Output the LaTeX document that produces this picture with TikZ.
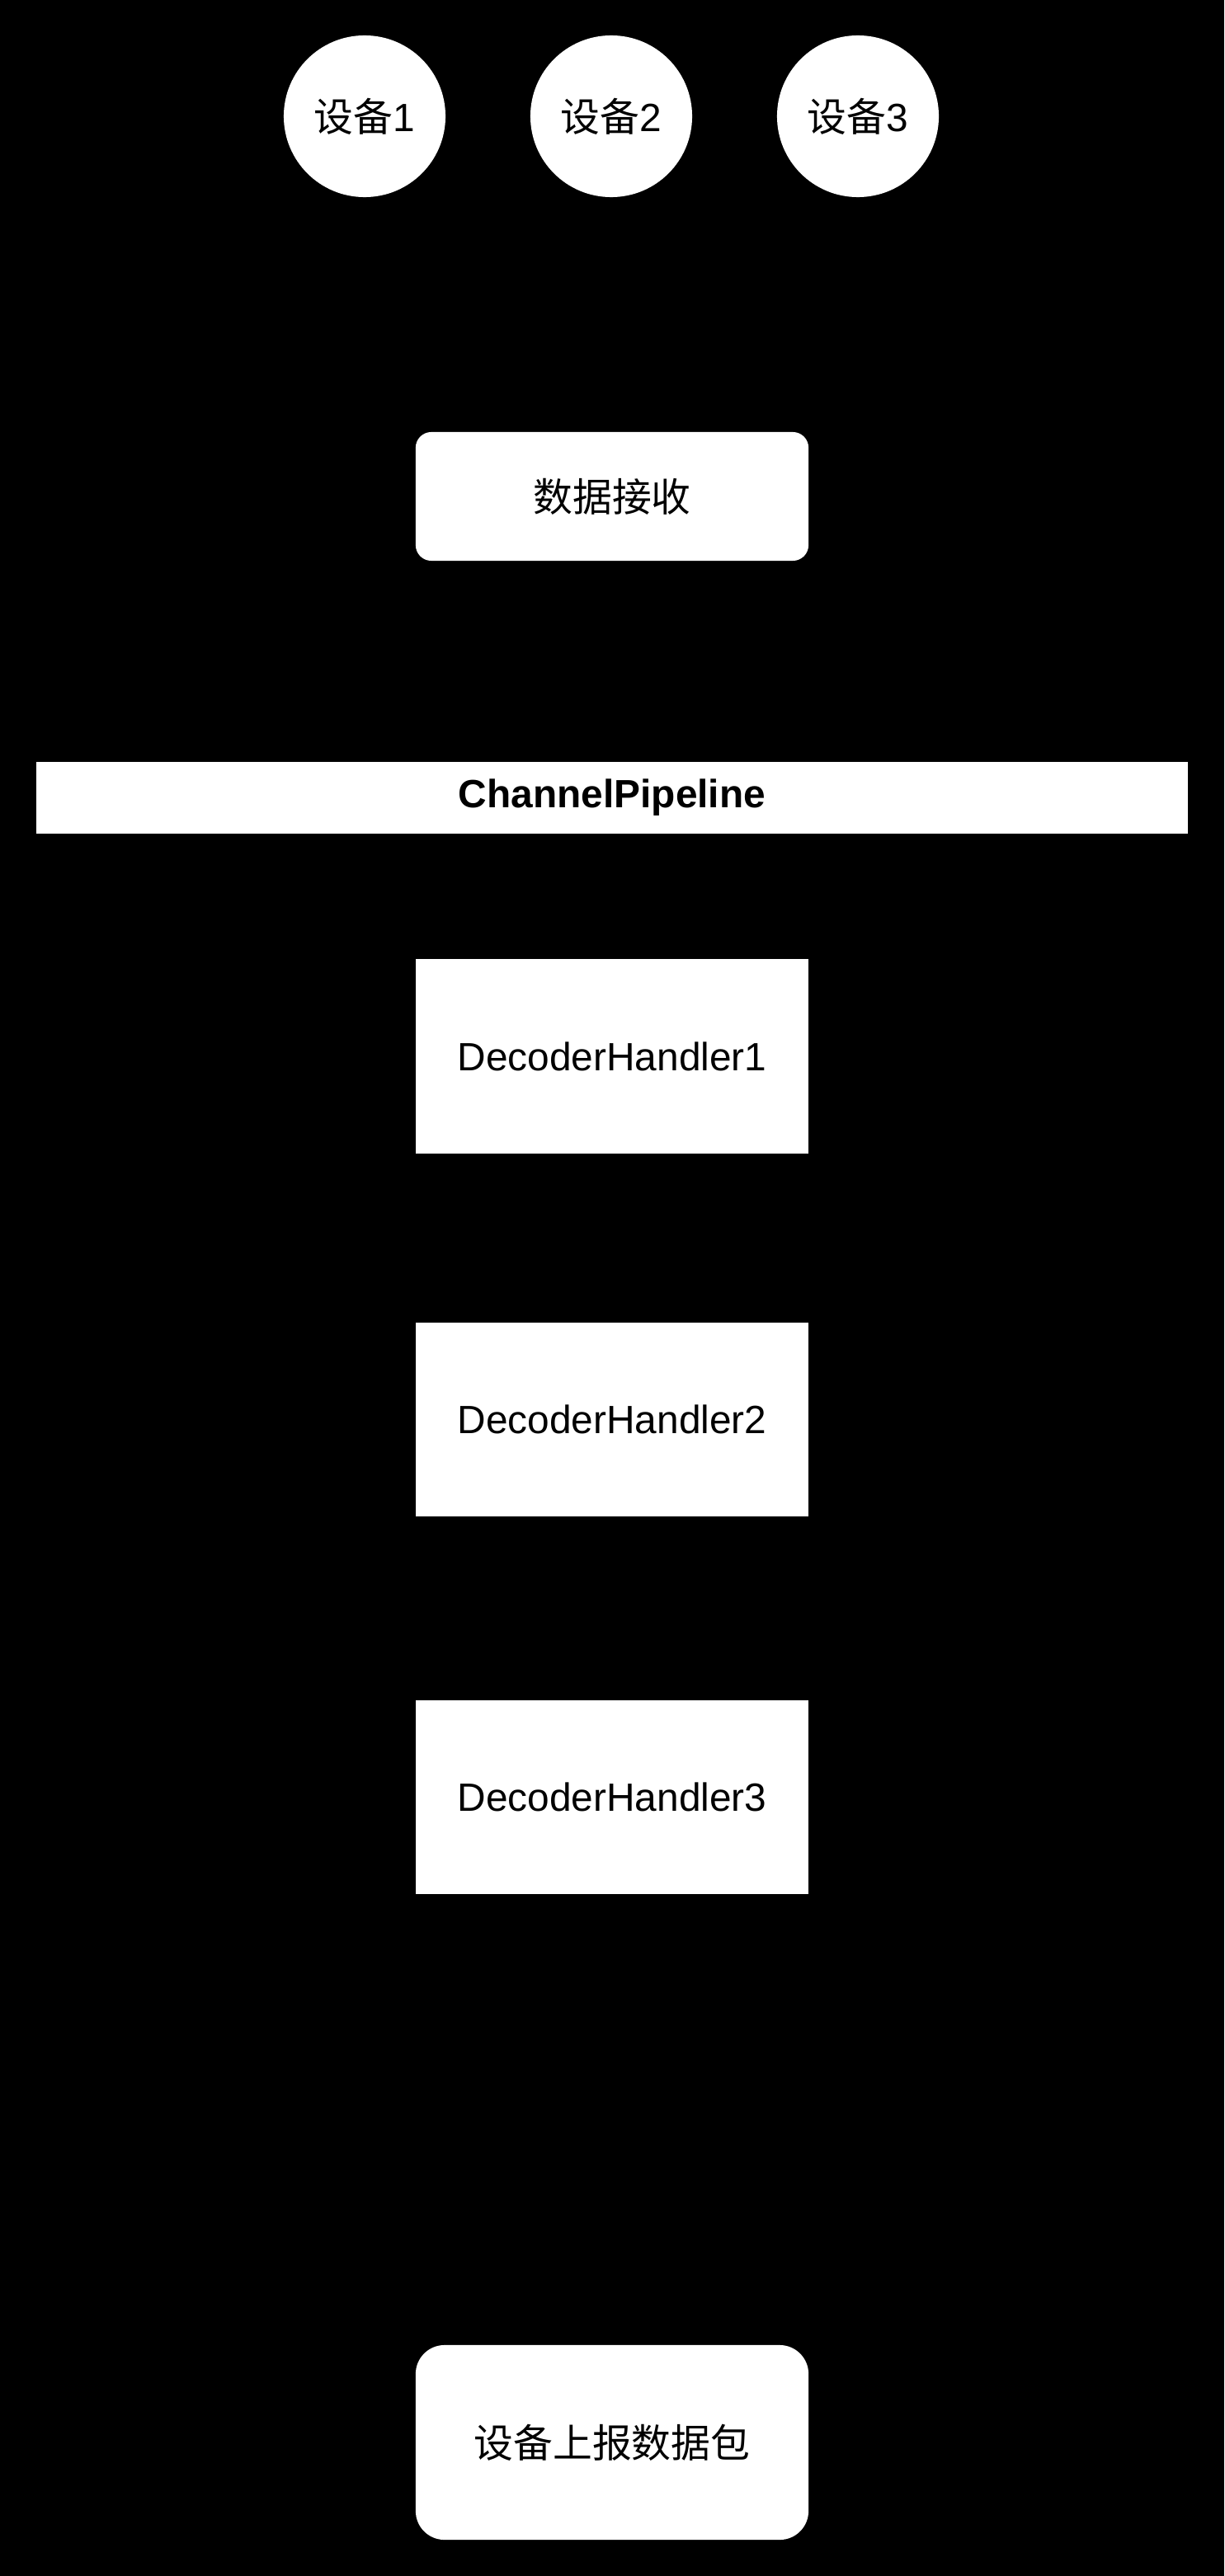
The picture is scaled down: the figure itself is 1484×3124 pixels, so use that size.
\documentclass[tikz,border=0pt]{standalone}
\usepackage{fontspec}
\setmainfont{Liberation Sans}
\newfontfamily\cjk{Noto Sans CJK SC}
\begin{document}
\begin{tikzpicture}[x=0.01cm,y=-0.01cm,
 txt/.style={font=\fontsize{13.6}{16}\selectfont},
 dev/.style={txt,circle,fill=white,minimum size=1.96cm,inner sep=0pt},
 recv/.style={txt,rectangle,fill=white,rounded corners=0.19cm,minimum width=4.76cm,minimum height=1.56cm},
 pipe/.style={txt,rectangle,fill=white,minimum width=13.96cm,minimum height=0.87cm,font=\fontsize{13.6}{16}\selectfont\bfseries},
 handler/.style={txt,rectangle,fill=white,minimum width=4.76cm,minimum height=2.35cm},
 packet/.style={txt,rectangle,fill=white,rounded corners=0.35cm,minimum width=4.76cm,minimum height=2.36cm}]
\fill[black](0,0)rectangle(1484,3124);
\foreach \i/\x in {1/442,2/741,3/1040}
{
    \node[dev](dev\i) at (\x,141){{\cjk 设备}\i};
}
\node[recv](recv) at (742,602){\cjk 数据接收};
\node[pipe](pipe) at (742,967.5){ChannelPipeline};
\foreach \i/\y in {1/1281,2/1721.5,3/2179.5}
{
    \node[handler](dh\i) at (742,\y){DecoderHandler\i};
}
\node[packet](packet) at (742,2962){\cjk 设备上报数据包};
\end{tikzpicture}
\end{document}
